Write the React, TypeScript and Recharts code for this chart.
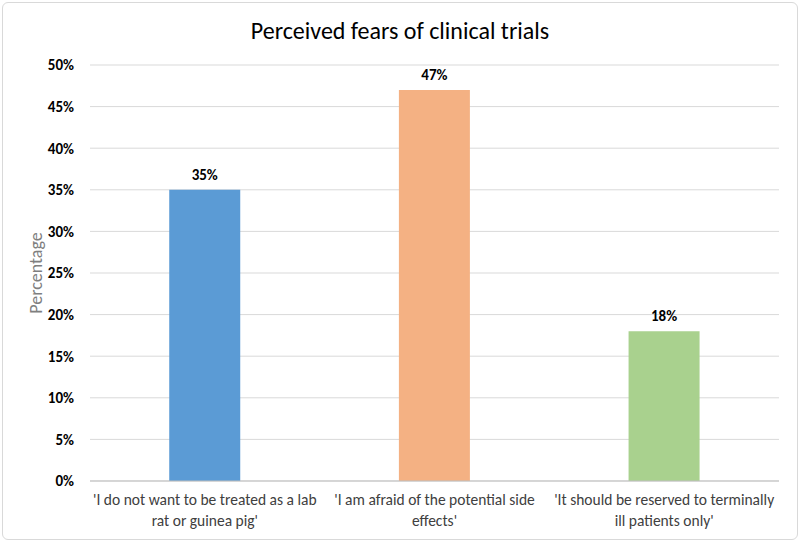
import { BarChart, Bar, XAxis, YAxis, CartesianGrid, Cell, LabelList } from "recharts";

const categories = [
  "'I do not want to be treated as a lab rat or guinea pig'",
  "'I am afraid of the potential side effects'",
  "'It should be reserved to terminally ill patients only'",
];
const tickLines = [
  ["'I do not want to be treated as a lab", "rat or guinea pig'"],
  ["'I am afraid of the potential side", "effects'"],
  ["'It should be reserved to terminally", "ill patients only'"],
];
const values = [0.35, 0.47, 0.18];
const colors = ["#5B9BD5", "#F4B183", "#A9D18E"];
const yTicks = [0, 0.05, 0.1, 0.15, 0.2, 0.25, 0.3, 0.35, 0.4, 0.45, 0.5];

const data = categories.map((c, i) => ({ name: c, value: values[i], idx: i }));

const font = "Carlito, Calibri, 'Liberation Sans', Arial, sans-serif";

function CategoryTick(props: any) {
  const { x, y, index } = props;
  const lines = tickLines[index] || [];
  return (
    <g>
      {lines.map((l, i) => (
        <text
          key={i}
          x={x}
          y={y + 16 + i * 21}
          textAnchor="middle"
          fontSize={15.5}
          fill="#404040"
          fontFamily={font}
        >
          {l}
        </text>
      ))}
    </g>
  );
}

export default function App() {
  return (
    <div style={{ position: "absolute", left: 0, top: 0, width: 800, height: 542, background: "#fff" }}>
      <div
        style={{
          position: "absolute",
          left: 2,
          top: 2,
          width: 794,
          height: 536,
          border: "1px solid #d9d9d9",
          borderRadius: 6,
        }}
      />
      <div
        style={{
          position: "absolute",
          top: 16,
          left: 0,
          width: 800,
          textAlign: "center",
          fontFamily: font,
          fontSize: 24,
          color: "#000",
        }}
      >
        Perceived fears of clinical trials
      </div>
      <div style={{ position: "absolute", left: 0, top: 0 }}>
        <BarChart
          width={800}
          height={542}
          data={data}
          margin={{ top: 65, right: 21, bottom: 11, left: 0 }}
          barCategoryGap="34.5%"
        >
          <CartesianGrid vertical={false} stroke="#d9d9d9" />
          <XAxis
            dataKey="name"
            height={50}
            tickLine={false}
            axisLine={{ stroke: "#bfbfbf" }}
            tick={<CategoryTick />}
            interval={0}
          />
          <YAxis
            width={90}
            domain={[0, 0.5]}
            ticks={yTicks}
            tickFormatter={(v: number) => `${Math.round(v * 100)}%`}
            axisLine={false}
            tickLine={false}
            tickMargin={10}
            tick={{ fill: "#000", fontSize: 15, fontWeight: "bold", fontFamily: font }}
            label={{
              value: "Percentage",
              angle: -90,
              position: "insideLeft",
              offset: 36,
              style: { textAnchor: "middle", fill: "#7f7f7f", fontSize: 18, fontFamily: font },
            }}
          />
          <Bar dataKey="value" isAnimationActive={false}>
            {data.map((d, i) => (
              <Cell key={i} fill={colors[i]} />
            ))}
            <LabelList
              dataKey="value"
              position="top"
              offset={10}
              formatter={(v: any) => `${Math.round(Number(v) * 100)}%`}
              style={{ fill: "#000", fontSize: 15, fontWeight: "bold", fontFamily: font }}
            />
          </Bar>
        </BarChart>
      </div>
    </div>
  );
}
